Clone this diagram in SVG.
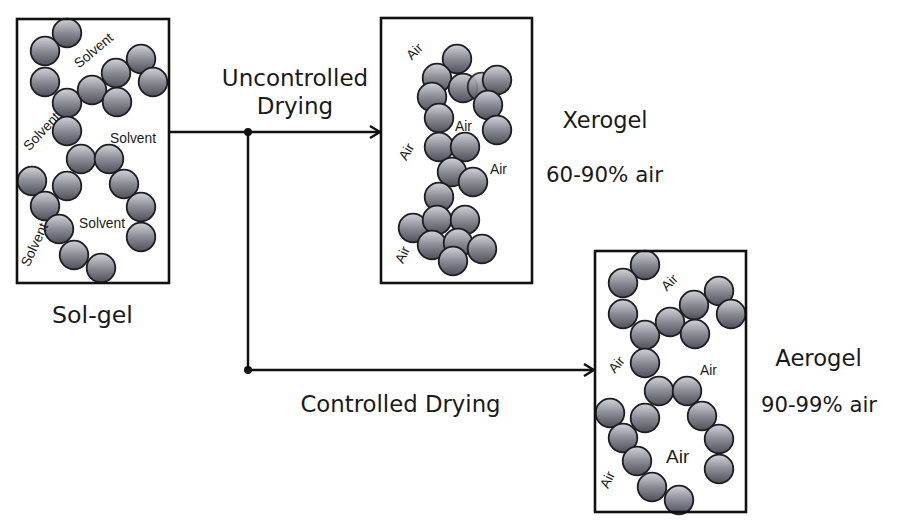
<svg xmlns="http://www.w3.org/2000/svg" xmlns:xlink="http://www.w3.org/1999/xlink" width="900" height="531" viewBox="0 0 900 531">
<style>
.box{fill:none;stroke:#111;stroke-width:2.6}
.p{fill:url(#grad);stroke:#1c1c22;stroke-width:1.8}
.lbl{font-family:"DejaVu Sans",Verdana,sans-serif;fill:#1a1a1a}
.sm{font-family:"Liberation Sans",Arial,sans-serif;font-size:13.8px;fill:#1a1a1a}
.ln{fill:none;stroke:#111;stroke-width:2.5}
</style>
<defs>
<linearGradient id="grad" x1="0" y1="0" x2="0" y2="1">
<stop offset="0" stop-color="#d2d3d9"/>
<stop offset="0.5" stop-color="#8b8b95"/>
<stop offset="1" stop-color="#50505b"/>
</linearGradient>
<marker id="arr" viewBox="0 0 12 14" refX="11" refY="7" markerWidth="12" markerHeight="14" markerUnits="userSpaceOnUse" orient="auto">
<path d="M1,1 L11,7 L1,13" fill="none" stroke="#111" stroke-width="2.4"/>
</marker>
<g id="net">
<circle class="p" cx="50" cy="14" r="14.3"/>
<circle class="p" cx="28" cy="32" r="14.3"/>
<circle class="p" cx="28" cy="63" r="14.3"/>
<circle class="p" cx="50" cy="84" r="14.3"/>
<circle class="p" cx="75" cy="71" r="14.3"/>
<circle class="p" cx="99" cy="54" r="14.3"/>
<circle class="p" cx="124" cy="40" r="14.3"/>
<circle class="p" cx="136" cy="63" r="14.3"/>
<circle class="p" cx="100" cy="83" r="14.3"/>
<circle class="p" cx="50" cy="112" r="14.3"/>
<circle class="p" cx="64" cy="140" r="14.3"/>
<circle class="p" cx="92" cy="140" r="14.3"/>
<circle class="p" cx="15" cy="162" r="14.3"/>
<circle class="p" cx="50" cy="167" r="14.3"/>
<circle class="p" cx="107" cy="165" r="14.3"/>
<circle class="p" cx="124" cy="188" r="14.3"/>
<circle class="p" cx="28" cy="187" r="14.3"/>
<circle class="p" cx="124" cy="218" r="14.3"/>
<circle class="p" cx="42" cy="210" r="14.3"/>
<circle class="p" cx="57" cy="236" r="14.3"/>
<circle class="p" cx="84" cy="249" r="14.3"/>
</g>
</defs>
<rect width="900" height="531" fill="#fff"/>

<g id="connectors">
<line class="ln" x1="169" y1="132" x2="380" y2="132" marker-end="url(#arr)"/>
<line class="ln" x1="248" y1="132" x2="248" y2="370"/>
<line class="ln" x1="248" y1="370" x2="594" y2="370" marker-end="url(#arr)"/>
<circle cx="248" cy="132" r="4" fill="#111"/>
<circle cx="248" cy="370" r="4" fill="#111"/>
<text class="lbl" font-size="23" text-anchor="middle" x="295" y="86">Uncontrolled</text>
<text class="lbl" font-size="23" text-anchor="middle" x="295" y="114">Drying</text>
<text class="lbl" font-size="22.8" text-anchor="middle" x="400.5" y="412">Controlled Drying</text>
</g>

<g id="solgel">
<use xlink:href="#net" href="#net" transform="translate(17,19)"/>
<rect class="box" x="17" y="19" width="152" height="264"/>
<text class="sm" transform="translate(94,51) rotate(-40)" text-anchor="middle" y="4">Solvent</text>
<text class="sm" transform="translate(42,132) rotate(-47)" text-anchor="middle" y="4">Solvent</text>
<text class="sm" transform="translate(35,245) rotate(-65)" text-anchor="middle" y="4">Solvent</text>
<text class="sm" x="110" y="143">Solvent</text>
<text class="sm" x="79" y="228">Solvent</text>
<text class="lbl" font-size="23.7" text-anchor="middle" x="92.5" y="323">Sol-gel</text>
</g>

<g id="xerogel">
<circle class="p" cx="457" cy="59" r="14.3"/>
<circle class="p" cx="437" cy="78" r="14.3"/>
<circle class="p" cx="463" cy="88" r="14.3"/>
<circle class="p" cx="482" cy="87" r="14.3" opacity="0.9"/>
<circle class="p" cx="497" cy="80" r="14.3"/>
<circle class="p" cx="432" cy="97" r="14.3"/>
<circle class="p" cx="488" cy="105" r="14.3"/>
<circle class="p" cx="439" cy="118" r="14.3"/>
<circle class="p" cx="497" cy="130" r="14.3"/>
<circle class="p" cx="439" cy="147" r="14.3"/>
<circle class="p" cx="465" cy="147" r="14.3"/>
<circle class="p" cx="452" cy="172" r="14.3"/>
<circle class="p" cx="473" cy="182" r="14.3"/>
<circle class="p" cx="439" cy="197" r="14.3"/>
<circle class="p" cx="413" cy="228" r="14.3"/>
<circle class="p" cx="437" cy="220" r="14.3"/>
<circle class="p" cx="465" cy="220" r="14.3"/>
<circle class="p" cx="432" cy="245" r="14.3"/>
<circle class="p" cx="458" cy="243" r="14.3"/>
<circle class="p" cx="482" cy="249" r="14.3"/>
<circle class="p" cx="453" cy="261" r="14.3"/>
<rect class="box" x="381" y="18" width="151" height="265"/>
<text class="sm" transform="translate(415,52) rotate(-45)" text-anchor="middle" y="4">Air</text>
<text class="sm" transform="translate(407,152) rotate(-60)" text-anchor="middle" y="4">Air</text>
<text class="sm" transform="translate(403,255) rotate(-65)" text-anchor="middle" y="4">Air</text>
<text class="sm" x="455" y="131">Air</text>
<text class="sm" x="490" y="174">Air</text>
<text class="lbl" font-size="22.5" text-anchor="middle" x="605" y="128">Xerogel</text>
<text class="lbl" font-size="21.4" text-anchor="middle" x="604.5" y="182">60-90% air</text>
</g>

<g id="aerogel">
<use xlink:href="#net" href="#net" transform="translate(595,251)"/>
<rect class="box" x="595" y="251" width="151" height="261"/>
<text class="sm" transform="translate(670,283) rotate(-45)" text-anchor="middle" y="4">Air</text>
<text class="sm" transform="translate(617,365) rotate(-50)" text-anchor="middle" y="4">Air</text>
<text class="sm" transform="translate(608,480) rotate(-65)" text-anchor="middle" y="4">Air</text>
<text class="sm" x="700" y="375">Air</text>
<text class="sm" x="666" y="463" style="font-size:19px">Air</text>
<text class="lbl" font-size="22.7" text-anchor="middle" x="818.5" y="366">Aerogel</text>
<text class="lbl" font-size="21.2" text-anchor="middle" x="819" y="412">90-99% air</text>
</g>
</svg>
